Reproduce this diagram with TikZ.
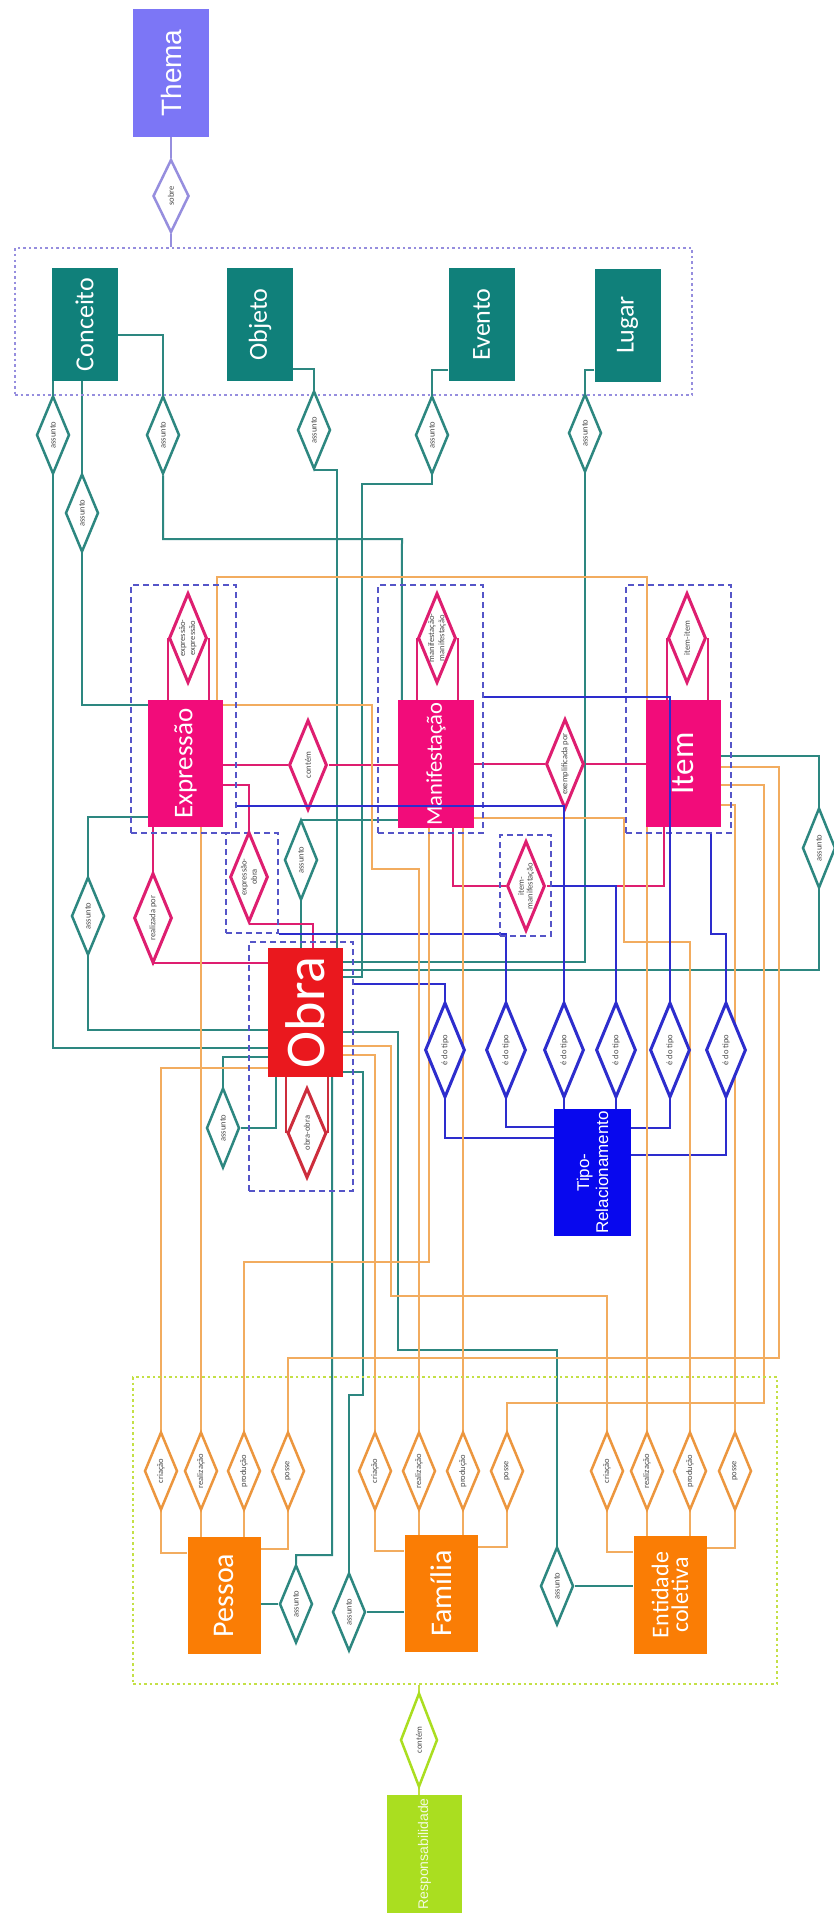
\documentclass[tikz,border=0pt]{standalone}
\usepackage{fontspec}
\setmainfont{Carlito}
\newfontfamily\arialf{Liberation Sans}
\usepackage{graphicx}
\usetikzlibrary{shapes.geometric,positioning,backgrounds,calc}

\definecolor{tealbox}{RGB}{16,128,122}
\definecolor{tealline}{RGB}{45,135,128}
\definecolor{pinkbox}{RGB}{242,12,122}
\definecolor{pinkline}{RGB}{222,30,112}
\definecolor{redbox}{RGB}{234,24,30}
\definecolor{redline}{RGB}{205,45,60}
\definecolor{bluebox}{RGB}{8,8,238}
\definecolor{blueline}{RGB}{45,45,205}
\definecolor{orbox}{RGB}{250,125,5}
\definecolor{orline}{RGB}{242,172,95}
\definecolor{ordiam}{RGB}{236,150,62}
\definecolor{lilac}{RGB}{124,118,246}
\definecolor{lilacdot}{RGB}{150,142,222}
\definecolor{lime}{RGB}{170,222,32}
\definecolor{limedot}{RGB}{196,224,70}
\definecolor{grpblue}{RGB}{85,85,200}
\definecolor{txtgray}{RGB}{75,75,75}

\newcommand{\vtext}[1]{\rotatebox{90}{\shortstack{#1}}}

\tikzset{
  ent/.style={rectangle,inner sep=0pt,text=white,align=center},
  dlab/.style={font=\fontsize{8.5}{9}\selectfont,text=txtgray,inner sep=0pt},
  rel/.style={diamond,draw,fill=white,inner sep=0pt,line width=2.5pt,
              label={[dlab]center:\vtext{#1}}},
  tlrel/.style={rel={#1},draw=tealline,minimum width=33pt,minimum height=78pt},
  pkrel/.style={rel={#1},draw=pinkline,line width=3pt,minimum width=38pt,minimum height=90pt},
  tprel/.style={rel={#1},draw=blueline,line width=3pt,minimum width=40pt,minimum height=95pt},
  orrel/.style={rel={#1},draw=ordiam,minimum width=33pt,minimum height=78pt},
  grp/.style={draw=grpblue,line width=2pt,dash pattern=on 6pt off 4pt,inner sep=0pt},
  dotbox/.style={draw,line width=2.5pt,dash pattern=on 2.5pt off 3pt,inner sep=0pt},
  tl/.style={draw=tealline,line width=2pt},
  pl/.style={draw=pinkline,line width=2pt},
  rl/.style={draw=redline,line width=2pt},
  bll/.style={draw=blueline,line width=2pt},
  ol/.style={draw=orline,line width=2pt},
  pul/.style={draw=lilacdot,line width=2pt},
  gl/.style={draw=limedot,line width=2pt},
}

\begin{document}
\begin{tikzpicture}[x=1pt,y=-1pt,
  teal/.style={ent,fill=tealbox,minimum width=66pt,minimum height=113pt,
               font=\fontsize{26}{28}\selectfont},
  pink/.style={ent,fill=pinkbox,minimum width=75pt,minimum height=127pt},
  orng/.style={ent,fill=orbox,minimum width=73pt,minimum height=117pt},
]
  \useasboundingbox (0,0) rectangle (834,1921);
  \begin{scope}[on background layer]
    \fill[white] (0,0) rectangle (834,1921);
  \end{scope}

  %% --- Thema and the subject group ---
  \node[ent,fill=lilac,minimum width=76pt,minimum height=128pt,
        font=\arialf\fontsize{28}{30}\selectfont] (thema) at (171,73) {\vtext{Thema}};
  \node[rel={sobre},draw=lilacdot,minimum width=36pt,minimum height=73pt] (sobre) at (171,196) {};
  \node[dotbox,draw=lilacdot,minimum width=677pt,minimum height=147pt] (grpTema) at (353.5,321.5) {};

  \node[teal] (conceito) at (84.5,324.5) {\vtext{Conceito}};
  \node[teal] (objeto)   at (260,324.5)  {\vtext{Objeto}};
  \node[teal] (evento)   at (481.5,324.5) {\vtext{Evento}};
  \node[teal] (lugar)    at (627.5,325)  {\vtext{Lugar}};

  \node[tlrel={assunto}] (aC1) at (53,435) {};
  \node[tlrel={assunto}] (aC2) at (82,513) {};
  \node[tlrel={assunto}] (aC3) at (163,435) {};
  \node[tlrel={assunto}] (aOb) at (314,430) {};
  \node[tlrel={assunto}] (aEv) at (432,435) {};
  \node[tlrel={assunto}] (aLu) at (585,433) {};

  %% --- Expressao / Manifestacao / Item ---
  \node[grp,minimum width=105pt,minimum height=248pt] (exprG) at (183.5,709) {};
  \node[grp,minimum width=105pt,minimum height=248pt] (manG)  at (430.5,709) {};
  \node[grp,minimum width=105pt,minimum height=248pt] (itemG) at (678.5,709) {};
  \node[grp,minimum width=52pt,minimum height=100pt]  (exObG) at (252,883) {};
  \node[grp,minimum width=51pt,minimum height=101pt]  (miG)   at (525.5,885.5) {};
  \node[grp,minimum width=104pt,minimum height=249pt] (obraG) at (301,1066.5) {};

  \node[pink,font=\fontsize{27}{29}\selectfont] (expr) at (185.5,763.5) {\vtext{Expressão}};
  \node[pink,minimum width=76pt,minimum height=128pt,font=\fontsize{22.5}{24}\selectfont]
       (man) at (436,764) {\vtext{Manifestação}};
  \node[pink,font=\fontsize{33}{35}\selectfont] (item) at (683.5,763.5) {\vtext{Item}};
  \node[ent,fill=redbox,minimum width=75pt,minimum height=129pt,
        font=\fontsize{56}{58}\selectfont] (obra) at (305.5,1012.5) {\vtext{Obra}};

  \node[pkrel={expressão-\\expressão}] (rExpr) at (188,638) {};
  \node[pkrel={manifestação-\\manifestação}] (rMan) at (437,638) {};
  \node[pkrel={item-item}] (rItem) at (687,638) {};
  \node[pkrel={contém}] (rEM) at (308,765) {};
  \node[pkrel={exemplificada por}] (rMI) at (565,764) {};
  \node[pkrel={realizada por}] (rReal) at (153,918) {};
  \node[pkrel={expressão-\\obra}] (rExOb) at (249,877) {};
  \node[pkrel={item-\\manifestação}] (rMIs) at (526,886) {};
  \node[pkrel={obra-obra},draw=redline,minimum width=39pt] (rObra) at (307,1133) {};

  \node[tlrel={assunto}] (aExpr) at (88,916) {};
  \node[tlrel={assunto},minimum height=80pt] (aMan) at (301,860) {};
  \node[tlrel={assunto},minimum height=80pt] (aObra) at (223,1128) {};
  \node[tlrel={assunto},minimum height=80pt] (aItem) at (819,848) {};

  %% --- Tipo-Relacionamento ---
  \node[ent,fill=bluebox,minimum width=77pt,minimum height=127pt,
        font=\arialf\fontsize{17}{20}\selectfont] (tipo) at (592.5,1172.5)
       {\vtext{Tipo-\\Relacionamento}};
  \foreach \n/\x in {1/445,2/506,3/564,4/616,5/670,6/726}
    \node[tprel={é do tipo}] (tp\n) at (\x,1050) {};

  %% --- Responsabilidade group ---
  \node[dotbox,draw=limedot,minimum width=644pt,minimum height=307pt] (respG) at (455,1530.5) {};
  \node[orng,font=\fontsize{30}{32}\selectfont] (pessoa) at (224,1595.5) {\vtext{Pessoa}};
  \node[orng,font=\fontsize{30}{32}\selectfont] (familia) at (441,1593.5) {\vtext{Família}};
  \node[orng,minimum height=118pt,font=\fontsize{24}{26}\selectfont] (entidade) at (670,1595)
       {\vtext{Entidade\\coletiva}};

  \foreach \p/\x in {pC/161,pR/201,pP/244,pO/288,fC/375,fR/419,fP/463,fO/507,eC/607,eR/647,eP/690,eO/735}
    \node[orrel={}] (\p) at (\x,1471) {};
  \foreach \p in {pC,fC,eC} \node[dlab] at (\p) {\vtext{criação}};
  \foreach \p in {pR,fR,eR} \node[dlab] at (\p) {\vtext{realização}};
  \foreach \p in {pP,fP,eP} \node[dlab] at (\p) {\vtext{produção}};
  \foreach \p in {pO,fO,eO} \node[dlab] at (\p) {\vtext{posse}};

  \node[tlrel={assunto}] (aPes) at (296,1604) {};
  \node[tlrel={assunto}] (aFam) at (349,1612) {};
  \node[tlrel={assunto}] (aEnt) at (557,1586) {};

  \node[rel={contém},draw=lime,minimum width=37pt,minimum height=94pt] (cont) at (419,1740) {};
  \node[ent,fill=lime,minimum width=75pt,minimum height=118pt,text=white!85!lime,
        font=\arialf\fontsize{14}{16}\selectfont] (resp) at (424.5,1854) {\vtext{Responsabilidade}};

  %% ── Connectors ──────────────────────────────────────────────────────
  \begin{scope}[on background layer]
    \draw[pul] (thema.south) -- (sobre.north);
    \draw[pul] (sobre.south) -- (sobre.south |- grpTema.north);

    % assunto (teal)
    \draw[tl] (aC1.north |- conceito.south) -- (aC1.north);
    \draw[tl] (aC1.south) |- ([yshift=-100pt]obra.north west);
    \draw[tl] (aC2.north |- conceito.south) -- (aC2.north);
    \draw[tl] (aC2.south) |- ([yshift=-5pt]expr.north west);
    \draw[tl] ([yshift=-67pt]conceito.north east) -| (aC3.north);
    \draw[tl] (aC3.south) |- (402,539) -- ([xshift=4pt]man.north west);
    \draw[tl] ([yshift=-101pt]objeto.north east) -| (aOb.north);
    \draw[tl] (aOb.south) -| ([xshift=-6pt]obra.north east);
    \draw[tl] ([yshift=-102pt]evento.north west) -| (aEv.north);
    \draw[tl] (aEv.south) |- (362,484) |- ([yshift=-29pt]obra.north east);
    \draw[tl] ([yshift=-102pt]lugar.north west) -| (aLu.north);
    \draw[tl] (aLu.south) |- ([yshift=-14pt]obra.north east);
    \draw[tl] ([yshift=-56pt]item.north east) -| (aItem.north);
    \draw[tl] (aItem.south) |- ([yshift=-22pt]obra.north east);
    \draw[tl] ([yshift=-117pt]expr.north west) -| (aExpr.north);
    \draw[tl] (aExpr.south) |- ([yshift=-82pt]obra.north west);
    \draw[tl] ([yshift=-120pt]man.north west) -| (aMan.north);
    \draw[tl] (aMan.south) -- (aMan.south |- obra.north);
    \draw[tl] ([yshift=-109pt]obra.north west) -| (aObra.north);
    \draw[tl] (aObra.east) -| ([xshift=8pt]obra.south west);
    \draw[tl] (aPes.west) -- (aPes.west -| pessoa.east);
    \draw[tl] (aPes.north) |- (332,1555) -- ([xshift=-11pt]obra.south east);
    \draw[tl] (aFam.east) -- (aFam.east -| familia.west);
    \draw[tl] (aFam.north) |- (363,1395) |- ([yshift=-124pt]obra.north east);
    \draw[tl] (aEnt.east) -- (aEnt.east -| entidade.west);
    \draw[tl] (aEnt.north) |- (398,1350) |- ([yshift=-84pt]obra.north east);

    % Grupo 1 (pink)
    \foreach \r/\e in {rExpr/expr,rMan/man,rItem/item} {
      \draw[pl] (\r.west) -- (\r.west |- \e.north);
      \draw[pl] (\r.east) -- (\r.east |- \e.north);
    }
    \draw[pl] (expr.east |- rEM) -- (rEM.west);
    \draw[pl] (rEM.east) -- (rEM.east -| man.west);
    \draw[pl] (man.east |- rMI) -- (rMI.west);
    \draw[pl] (rMI.east) -- (rMI.east -| item.west);
    \draw[pl] (rReal.north |- expr.south) -- (rReal.north);
    \draw[pl] (rReal.south) |- ([yshift=-15pt]obra.north west);
    \draw[pl] ([yshift=-85pt]expr.north east) -| (rExOb.north);
    \draw[pl] (rExOb.south) -| ([xshift=7.5pt]obra.north);
    \draw[pl] ([xshift=17pt]man.south) |- (rMIs.west);
    \draw[pl] (rMIs.east) -| ([xshift=-19.5pt]item.south);
    \draw[rl] (rObra.west |- obra.south) -- (rObra.west);
    \draw[rl] (rObra.east |- obra.south) -- (rObra.east);

    % e do tipo (blue)
    \draw[bll] ([yshift=-43pt]obraG.north east) -| (tp1.north);
    \draw[bll] (exObG.south east) -| (tp2.north);
    \draw[bll] (miG.east) -| (tp4.north);
    \draw[bll] ([xshift=32.5pt]itemG.south) -- ++(0,100) -| (tp6.north);
    \draw[bll] (tp1.south) |- ([yshift=-29pt]tipo.north west);
    \draw[bll] (tp2.south) |- ([yshift=-18pt]tipo.north west);
    \draw[bll] (tp3.south) -- (tp3.south |- tipo.north);
    \draw[bll] (tp4.south) -- (tp4.south |- tipo.north);
    \draw[bll] (tp5.south) |- ([yshift=-19pt]tipo.north east);
    \draw[bll] (tp6.south) |- ([yshift=-46pt]tipo.north east);

    % Grupo 2 (orange)
    \draw[ol] (pC.north) |- ([yshift=-120pt]obra.north west);
    \draw[ol] (pR.north) -- (pR.north |- expr.south);
    \draw[ol] (pP.north) |- (429,1262) -- ([xshift=-7pt]man.south);
    \draw[ol] (pO.north) |- (779,1358) |- ([yshift=-67pt]item.north east);
    \draw[ol] (fC.north) |- ([yshift=-107pt]obra.north east);
    \draw[ol] (fR.north) |- (372,869) |- ([yshift=-5pt]expr.north east);
    \draw[ol] (fP.north) -- (fP.north |- man.south);
    \draw[ol] (fO.north) |- (764,1403) |- ([yshift=-85pt]item.north east);
    \draw[ol] (eC.north) |- (391,1296) |- ([yshift=-98pt]obra.north east);
    \draw[ol] (eR.north) |- (217,577) -- ([xshift=31.5pt]expr.north);
    \draw[ol] (eP.north) |- (624,942) |- ([yshift=-118pt]man.north east);
    \draw[ol] (eO.north) |- ([yshift=-105pt]item.north east);
    \foreach \a/\b/\c/\d/\ent in {pC/pR/pP/pO/pessoa,fC/fR/fP/fO/familia,eC/eR/eP/eO/entidade} {
      \draw[ol] (\a.south) |- ([yshift=-16pt]\ent.north west);
      \draw[ol] (\b.south) -- (\b.south |- \ent.north);
      \draw[ol] (\c.south) -- (\c.south |- \ent.north);
      \draw[ol] (\d.south) |- ([yshift=-12pt]\ent.north east);
    }

    \draw[gl] (resp.north -| cont) -- (cont.south);
    \draw[gl] (cont.north) -- (cont.north |- respG.south);
  \end{scope}

  % lines that cross the boxes
  \draw[bll] ([yshift=-222pt]exprG.north east) -| (tp3.north);
  \draw[bll] ([yshift=-113pt]manG.north east) -| (tp5.north);
\end{tikzpicture}
\end{document}
